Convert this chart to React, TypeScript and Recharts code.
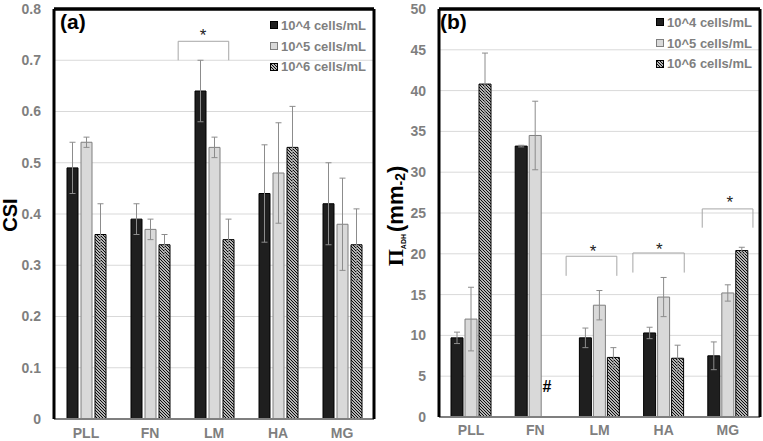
import React from 'react';
import {
  BarChart,
  Bar,
  XAxis,
  YAxis,
  CartesianGrid,
  ErrorBar,
  Legend,
  ReferenceLine,
  ReferenceDot,
} from 'recharts';

const categories = ['PLL', 'FN', 'LM', 'HA', 'MG'];
const seriesNames = ['10^4 cells/mL', '10^5 cells/mL', '10^6 cells/mL'];

// (a) CSI
const csi4 = [0.49, 0.39, 0.64, 0.44, 0.42];
const csi4Err = [0.05, 0.03, 0.06, 0.095, 0.08];
const csi5 = [0.54, 0.37, 0.53, 0.48, 0.38];
const csi5Err = [0.01, 0.02, 0.02, 0.098, 0.09];
const csi6 = [0.36, 0.34, 0.35, 0.53, 0.34];
const csi6Err = [0.06, 0.02, 0.04, 0.08, 0.07];
const csiTicks = [0, 0.1, 0.2, 0.3, 0.4, 0.5, 0.6, 0.7, 0.8];

// (b) adhesion density
const adh4 = [9.7, 33.2, 9.7, 10.3, 7.5];
const adh4Err = [0.7, 0.1, 1.2, 0.7, 1.7];
const adh5 = [12.0, 34.5, 13.7, 14.7, 15.2];
const adh5Err = [3.9, 4.2, 1.8, 2.4, 1.0];
const adh6 = [40.8, 0, 7.3, 7.2, 20.4];
const adh6Err = [3.8, null, 1.2, 1.6, 0.4];
const adhTicks = [0, 5, 10, 15, 20, 25, 30, 35, 40, 45, 50];

// significance brackets / marks, x in category units (0..5)
const csiBrackets = [{ x1: 1.94, x2: 2.73, top: 0.737, bottom: 0.7 }];
const csiStars = [{ x: 2.33, y: 0.75, text: '*' }];
const adhBrackets = [
  { x1: 1.98, x2: 2.77, top: 19.7, bottom: 17.3 },
  { x1: 3.02, x2: 3.82, top: 20.1, bottom: 17.7 },
  { x1: 4.1, x2: 4.89, top: 25.5, bottom: 23.2 },
];
const adhStars = [
  { x: 2.4, y: 20.3, text: '*' },
  { x: 3.43, y: 20.65, text: '*' },
  { x: 4.53, y: 26.4, text: '*' },
  { x: 1.68, y: 3.8, text: '#' },
];

const H = 441;
const FONT = "Arial, 'Liberation Sans', sans-serif";
const GRAY_TXT = '#7f7f7f';
const ERR = '#8c8c8c';

const buildRows = (a, ae, b, be, c, ce) =>
  categories.map((cat, i) => ({
    cat,
    pos: i + 0.5,
    v4: a[i], e4: ae[i],
    v5: b[i], e5: be[i],
    v6: c[i], e6: ce[i],
  }));

const csiData = buildRows(csi4, csi4Err, csi5, csi5Err, csi6, csi6Err);
const adhData = buildRows(adh4, adh4Err, adh5, adh5Err, adh6, adh6Err);

const Hatch = ({ id }: { id: string }) => (
  <pattern id={id} width={3} height={3} patternUnits="userSpaceOnUse">
    <rect width={3} height={3} fill="#fff" />
    <path d="M-1,-1 L4,4 M-1,2 L1,4 M2,-1 L4,1" stroke="#000" strokeWidth={1.1} />
  </pattern>
);

const LegendIcon = ({ idx, hatchId }: any) => (
  <svg width={8} height={8} style={{ marginRight: 3, display: 'block' }}>
    {idx === 2 && (
      <defs>
        <Hatch id={hatchId + 'L'} />
      </defs>
    )}
    <rect
      x={0.5}
      y={0.5}
      width={7}
      height={7}
      fill={idx === 0 ? '#1f1f1f' : idx === 1 ? '#d9d9d9' : `url(#${hatchId}L)`}
      stroke={idx === 1 ? '#7f7f7f' : '#000'}
      strokeWidth={1}
    />
  </svg>
);

const makeLegend = (hatchId: string) => (props: any) => {
  const { payload = [] } = props;
  return (
    <div style={{ fontFamily: FONT, fontWeight: 'bold', fontSize: 13, color: GRAY_TXT }}>
      {payload.map((entry: any, i: number) => (
        <div key={i} style={{ display: 'flex', alignItems: 'center', height: 20.7, whiteSpace: 'nowrap' }}>
          <LegendIcon idx={i} hatchId={hatchId} />
          <span>{entry.value}</span>
        </div>
      ))}
    </div>
  );
};

const csiLabel = (props: any) => {
  const { viewBox } = props;
  const x = viewBox.x + 17;
  const y = 215;
  return (
    <text
      x={x}
      y={y}
      transform={`rotate(-90, ${x}, ${y})`}
      textAnchor="middle"
      fontFamily={FONT}
      fontWeight="bold"
      fontSize={20}
      fill="#000"
    >
      CSI
    </text>
  );
};

const adhLabel = (props: any) => {
  const { viewBox } = props;
  const x = viewBox.x + 23;
  const y = 216;
  return (
    <text
      x={x}
      y={y}
      transform={`rotate(-90, ${x}, ${y})`}
      textAnchor="middle"
      fontFamily={FONT}
      fontWeight="bold"
      fontSize={22}
      fill="#000"
    >
      <tspan fontFamily="'Times New Roman', 'Liberation Serif', serif" fontSize={22}>Π</tspan>
      <tspan fontSize={7} dy={3}>ADH</tspan>
      <tspan dy={-3} dx={2}>(mm</tspan>
      <tspan fontSize={14} dy={2}>-2</tspan>
      <tspan dy={-2}>)</tspan>
    </text>
  );
};

const tickStyle = { fill: GRAY_TXT, fontSize: 14, fontWeight: 'bold', fontFamily: FONT };

function Panel(props: any) {
  const {
    width, data, ticks, yMax, fmt, yAxisWidth, xAxisHeight, rightMargin, xTickMargin,
    yLabel, legendLeft, legendTop, brackets, stars, tag, hatchId, barSize, barGap,
  } = props;
  const strokeFor = ['#000', '#7f7f7f', '#000'];
  const fills = ['#1f1f1f', '#d9d9d9', `url(#${hatchId})`];
  const keys = ['4', '5', '6'];
  return (
    <div style={{ position: 'relative', width, height: H }}>
      <BarChart
        width={width}
        height={H}
        data={data}
        margin={{ top: 8, right: rightMargin, bottom: 0, left: 0 }}
        barGap={barGap}
      >
        <defs>
          <Hatch id={hatchId} />
        </defs>
        <CartesianGrid vertical={false} stroke="#d9d9d9" />
        <XAxis
          dataKey="cat"
          interval={0}
          tickLine={false}
          tickSize={0}
          tickMargin={xTickMargin}
          height={xAxisHeight}
          axisLine={{ stroke: '#7f7f7f', strokeWidth: 2 }}
          tick={tickStyle}
        />
        {/* top frame */}
        <XAxis
          xAxisId="top"
          dataKey="cat"
          orientation="top"
          height={1}
          tick={false}
          tickLine={false}
          axisLine={{ stroke: '#000', strokeWidth: 3 }}
        />
        {/* hidden numeric x axis (category units) used to place the annotations */}
        <XAxis xAxisId="n" dataKey="pos" type="number" domain={[0, 5]} allowDataOverflow hide />
        <YAxis
          domain={[0, yMax]}
          ticks={ticks}
          interval={0}
          tickFormatter={fmt}
          width={yAxisWidth}
          tickLine={false}
          tickSize={0}
          tickMargin={13}
          axisLine={{ stroke: '#000', strokeWidth: 3 }}
          tick={tickStyle}
          label={yLabel}
        />
        <YAxis
          yAxisId="r"
          orientation="right"
          domain={[0, yMax]}
          width={1}
          tick={false}
          tickLine={false}
          axisLine={{ stroke: '#000', strokeWidth: 3 }}
        />
        {keys.map((k, i) => (
          <Bar
            key={k}
            dataKey={'v' + k}
            name={seriesNames[i]}
            fill={fills[i]}
            stroke={strokeFor[i]}
            strokeWidth={1}
            barSize={barSize}
            isAnimationActive={false}
          >
            <ErrorBar dataKey={'e' + k} width={3} stroke={ERR} strokeWidth={1} />
          </Bar>
        ))}
        <ReferenceLine
          xAxisId="n"
          stroke="#000"
          strokeWidth={3}
          ifOverflow="visible"
          segment={[{ x: 0, y: yMax }, { x: 5, y: yMax }]}
        />
        {brackets.flatMap((b: any, i: number) => [
          <ReferenceLine key={'l' + i} xAxisId="n" stroke="#a6a6a6" strokeWidth={1} ifOverflow="visible"
            segment={[{ x: b.x1, y: b.bottom }, { x: b.x1, y: b.top }]} />,
          <ReferenceLine key={'t' + i} xAxisId="n" stroke="#a6a6a6" strokeWidth={1} ifOverflow="visible"
            segment={[{ x: b.x1, y: b.top }, { x: b.x2, y: b.top }]} />,
          <ReferenceLine key={'r' + i} xAxisId="n" stroke="#a6a6a6" strokeWidth={1} ifOverflow="visible"
            segment={[{ x: b.x2, y: b.top }, { x: b.x2, y: b.bottom }]} />,
        ])}
        {stars.map((s: any, i: number) => (
          <ReferenceDot
            key={'s' + i}
            xAxisId="n"
            x={s.x}
            y={s.y}
            r={0}
            fill="none"
            stroke="none"
            ifOverflow="visible"
            label={{
              value: s.text,
              position: 'center',
              fill: s.text === '#' ? '#000' : '#222',
              fontSize: s.text === '#' ? 16 : 17,
              fontWeight: s.text === '#' ? 'bold' : 'normal',
              fontFamily: FONT,
            }}
          />
        ))}
        <Legend
          layout="vertical"
          align="center"
          verticalAlign="middle"
          content={makeLegend(hatchId)}
          wrapperStyle={{ left: legendLeft, top: legendTop }}
        />
      </BarChart>
      <div
        style={{
          position: 'absolute',
          left: 60,
          top: 11,
          fontFamily: FONT,
          fontWeight: 'bold',
          fontSize: 21,
          lineHeight: '21px',
          color: '#000',
        }}
      >
        {tag}
      </div>
    </div>
  );
}

export default function App() {
  return (
    <div style={{ position: 'absolute', left: 0, top: 0, width: 763, height: H, background: '#fff', display: 'flex' }}>
      <Panel
        width={380}
        data={csiData}
        ticks={csiTicks}
        yMax={0.8}
        fmt={(v: number) => (v === 0 ? '0' : v.toFixed(1))}
        yAxisWidth={54}
        xAxisHeight={22}
        rightMargin={5}
        xTickMargin={9}
        yLabel={csiLabel}
        legendLeft={270}
        legendTop={15}
        brackets={csiBrackets}
        stars={csiStars}
        tag="(a)"
        hatchId="hatchA"
        barSize={11}
        barGap={3}
      />
      <Panel
        width={383}
        data={adhData}
        ticks={adhTicks}
        yMax={50}
        fmt={(v: number) => String(v)}
        yAxisWidth={59}
        xAxisHeight={24}
        rightMargin={2}
        xTickMargin={8}
        yLabel={adhLabel}
        legendLeft={276}
        legendTop={12}
        brackets={adhBrackets}
        stars={adhStars}
        tag="(b)"
        hatchId="hatchB"
        barSize={12}
        barGap={2}
      />
    </div>
  );
}
